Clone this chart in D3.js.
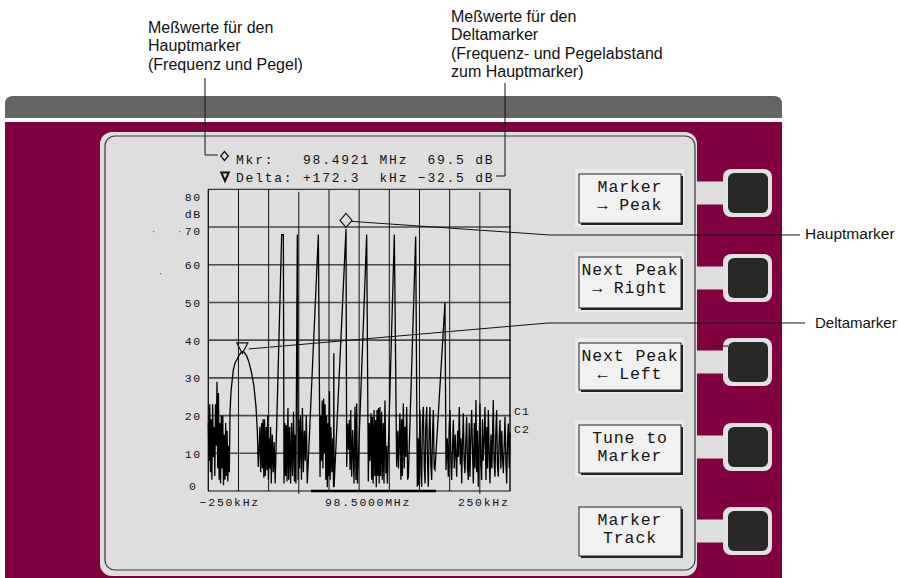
<!DOCTYPE html>
<html><head><meta charset="utf-8">
<script src="https://cdn.jsdelivr.net/npm/d3@7"></script>
<style>body{margin:0;background:#fff}svg{display:block}</style>
</head><body><svg id="c" width="898" height="578"></svg>
<script>
// ---------- data ----------
const levelTicks = [0, 10, 20, 30, 40, 50, 60, 70, 80];
const freqGrid = [-312.5, -250, -187.5, -125, -62.5, 0, 62.5, 125, 187.5, 250, 312.5];
const freqLabels = ["−250kHz", "98.5000MHz", "250kHz"];
const freqLabelValues = [-250, 0, 250];
const mkrRow = ["Mkr:", "98.4921", "MHz", "69.5", "dB"];
const deltaRow = ["Delta:", "+172.3", "kHz", "−32.5", "dB"];
const softKeys = [["Marker", "→ Peak"], ["Next Peak", "→ Right"], ["Next Peak", "← Left"], ["Tune to", "Marker"], ["Marker", "Track"]];
const noteMain = ["Meßwerte für den", "Hauptmarker", "(Frequenz und Pegel)"];
const noteDelta = ["Meßwerte für den", "Deltamarker", "(Frequenz- und Pegelabstand", "zum Hauptmarker)"];
const sideLabels = ["Hauptmarker", "Deltamarker"];
const traceLabels = ["C1", "C2"];
const mainMarker = [-27.2, 69.5];   // kHz offset, dB
const deltaMarker = [-242, 37];     // kHz offset, dB
const holdBar = [-100, 159];        // kHz
// spectrum trace: [kHz offset from 98.5 MHz, level dB]
const trace = [
 [-312.5,18],[-311,8],[-309.5,23],[-308,5],[-306.5,19],[-305,3],[-303.5,23],[-302,9],[-300.5,17],[-299,4],
 [-297.5,23],[-296,12],[-294.5,29],[-293,6],[-291.5,26],[-290,3],[-288.5,18],[-287,2],[-285.5,20],[-284,6],
 [-282.5,20],[-281,1.5],[-279.5,15],[-278,3],[-276.5,18],[-275,4],[-273.5,16],[-272,2.5],[-270.5,12],[-269,5],
 [-267.5,21],[-265.5,26.3],[-262.5,30],[-260.7,32.1],[-257.2,33.9],[-253.5,34.8],[-250.4,35.6],[-246.5,36.4],
 [-243.3,36.9],[-240,37],[-236.5,36.5],[-233,35.8],[-229.6,34.7],[-226,33],[-222.6,31.2],[-217.8,27.6],
 [-213.7,22.3],[-211,16.2],[-208.9,6.4],
 [-207,12],[-205.5,17],[-204,5],[-202,18],[-200.5,6],[-199,19],[-197.5,3.5],[-196,19],[-194.5,4],[-192.5,17],
 [-191,5.5],[-189.5,20],[-188,3],[-186.5,14],[-185,6],[-183.5,17],[-182,2],[-180,15],[-178,5],[-176,13],[-174,2],
 [-160.5,68],[-157,68],[-155.7,2],
 [-154,18],[-152.5,4],[-151,17.5],[-149.5,2.5],[-147.5,22],[-146,3],[-144,17],[-142,2],[-140,18],[-138,4],
 [-136,21],[-134,2.5],[-132.5,15],[-131,2],
 [-128.1,68],[-126.5,3],
 [-125,19],[-123.5,6],[-121.5,20],[-119.5,3],[-117.5,22],[-115.5,5],[-113.5,16],[-111.5,8],[-109.5,20],[-107.5,2],
 [-84.5,68],[-81,3.7],
 [-79.5,20],[-78,8],[-76.5,24],[-75,6],[-73.5,24.5],[-72,10],[-70.5,23],[-69,3],[-67.5,20],[-66,1],[-64.5,18],
 [-63,4],[-61.5,26.5],[-60,3],[-58.5,17],[-56.5,5],[-54.5,14],[-53,1],[-52.5,36.5],[-52,1],
 [-27.2,69.5],[-25.8,6.4],
 [-23.8,17.9],[-21.7,10.9],[-20.3,18.8],[-18.9,5.6],[-17.5,21.5],[-15.5,3.8],[-13.4,16.2],[-10.6,2],[-8.6,22.4],
 [-6.5,2.9],[-5.1,23.2],[-3.5,2],
 [15.6,68],[19,2.5],
 [21,18],[22.5,8],[24.5,20.6],[26,3],[27.5,19.7],[29,2],[31,21.5],[32.5,4],[34,18.8],[35.5,1],[37,21.5],[38.5,4],
 [40,22],[41.5,2],[43,22.3],[44.5,4],[46.5,21],[48,3],[50,18],[51.5,2],[53.5,24],[55.5,4.7],[57,12],[58.4,2],
 [72.9,68],[77.7,6.4],
 [80,16],[81.5,6],[84.5,20.6],[86.5,3],[88,19],[89.5,4],[91.5,23.2],[93.5,6],[95,17],[96.5,9],[98.5,22.3],
 [100.5,3],[101.9,3.8],
 [117.1,67.5],[120.5,1.1],
 [122,14],[123.5,1.5],[126,21.5],[128,5],[129.5,1.1],[131,18],[133,22.3],[135,6],[136.5,2],[138,17],[140,22.3],
 [141.5,8],[143.3,1.1],[145,16],[146.7,22.3],[148.5,7],[150.2,2.9],[152,15],[153.7,21.5],[155.5,6],[157.1,5.6],
 [177.8,50],[179.9,5.6],
 [182.5,14],[184.7,3.8],[186.5,17],[188.2,21.5],[190,8],[191.6,2.9],[193.5,12],[195.1,18.8],[197,6],[199,15],
 [202,3.8],[204,16],[205.5,9],[207.5,22.3],[209.5,7],[211,14],[212.3,2],[214,12],[215.8,20.6],[217.5,8],
 [219.2,4.7],[221,13],[222.7,19.7],[224.5,6],[226.2,2.9],[228,18],[229.6,3.8],[231.5,15],[233.1,21.5],[235,10],
 [236.5,2],[238.5,18],[240,6],[242,24.1],[243.5,5],[245,16],[246.9,1.1],[248.5,13],[250.3,23.2],[252,7],
 [253.8,2.9],[255.5,19],[257,8],[259,14],[260.7,22.3],[262.7,2.9],[264.5,17],[266,6],[267.6,21.5],[269.5,9],
 [271,2],[273,15],[275,6],[277.9,24.1],[279.5,8],[281.4,3.8],[283,15],[284.8,21.5],[286.5,7],[288.3,3.8],
 [290,14],[291.8,18.8],[293.5,6],[295.5,16],[297,9],[298.7,4.7],[300.5,12],[302.1,19.7],[304,8],[305.6,2],
 [307.5,14],[309,17.9],[311,6],[312.5,15.5]
];

// ---------- drawing ----------
const svg = d3.select("#c");
const MONO = "'Liberation Mono','DejaVu Sans Mono',monospace";
const SANS = "'Liberation Sans',Arial,sans-serif";
const CRIMSON = "#800040", PANEL = "#dedede";

// top gray bar and crimson body
svg.append("path").attr("d", "M5,118 V104 Q5,96 13,96 H774 Q782,96 782,104 V118 Z").attr("fill", "#646464");
svg.append("rect").attr("x", 5).attr("y", 122).attr("width", 777).attr("height", 456).attr("fill", CRIMSON);

// soft key geometry
const squareTop = [169, 254, 338, 423, 507];
const boxTop = [174, 257, 343, 425, 507];
const boxH = [49, 51, 47, 48, 49];

// tabs from panel to the hardware keys
squareTop.forEach(t => {
  svg.append("rect").attr("x", 690).attr("y", t + 12.5).attr("width", 38).attr("height", 23).attr("fill", PANEL);
});
// display panel
svg.append("rect").attr("x", 100).attr("y", 132).attr("width", 597).attr("height", 444).attr("rx", 12).attr("fill", PANEL);
svg.append("rect").attr("x", 105).attr("y", 136).attr("width", 590).attr("height", 434).attr("rx", 10)
  .attr("fill", "none").attr("stroke", "#3a3a3a").attr("stroke-width", 1.2);

// hardware keys
squareTop.forEach(t => {
  svg.append("rect").attr("x", 723).attr("y", t).attr("width", 49).attr("height", 48).attr("rx", 8).attr("fill", "#e2e2e2");
  svg.append("rect").attr("x", 728).attr("y", t + 4).attr("width", 40).attr("height", 40).attr("rx", 6).attr("fill", "#282828");
});
svg.append("line").attr("x1", 713).attr("x2", 728).attr("y1", 346).attr("y2", 346).attr("stroke", "#111").attr("stroke-width", 1);

// soft key labels
softKeys.forEach((k, i) => {
  const t = boxTop[i], h = boxH[i];
  if (i < 4) svg.append("rect").attr("x", 575).attr("y", t - 5).attr("width", 109).attr("height", h + 9).attr("fill", "#ebebeb");
  svg.append("rect").attr("x", 581).attr("y", t + 2).attr("width", 102).attr("height", h).attr("fill", "#222");
  svg.append("rect").attr("x", 579).attr("y", t).attr("width", 102).attr("height", h)
    .attr("fill", "#f1f1f1").attr("stroke", "#222").attr("stroke-width", 1);
  k.forEach((line, j) => {
    svg.append("text").attr("x", 630).attr("y", t + 17.5 + j * 18.5)
      .attr("text-anchor", "middle").attr("font-family", MONO).attr("font-size", 16.5)
      .attr("letter-spacing", 0.9).attr("fill", "#111").text(line);
  });
});

// ---------- spectrum plot ----------
const x = d3.scaleLinear().domain([-312.5, 312.5]).range([208.3, 510]);
const y = d3.scaleLinear().domain([0, 80]).range([491, 189.3]);
const plot = svg.append("g");

levelTicks.forEach(v => {
  if (v === 0 || v === 80) return;
  plot.append("line").attr("x1", x(-312.5)).attr("x2", x(312.5) + 1).attr("y1", y(v)).attr("y2", y(v))
    .attr("stroke", "#4a4a4a").attr("stroke-width", 1.6);
});
freqGrid.forEach(f => {
  const ext = (f === -125 || f === 250);
  plot.append("line").attr("x1", x(f)).attr("x2", x(f))
    .attr("y1", ext ? y(80) + 2.5 : y(80)).attr("y2", ext ? y(0) + 3 : y(0))
    .attr("stroke", "#111").attr("stroke-width", 1);
});
plot.append("rect").attr("x", x(-312.5)).attr("y", y(80)).attr("width", x(312.5) - x(-312.5)).attr("height", y(0) - y(80))
  .attr("fill", "none").attr("stroke", "#111").attr("stroke-width", 1);

// hold bar on baseline
plot.append("line").attr("x1", x(holdBar[0])).attr("x2", x(holdBar[1])).attr("y1", y(0)).attr("y2", y(0))
  .attr("stroke", "#000").attr("stroke-width", 2.6);

// trace
plot.append("path").datum(trace)
  .attr("d", d3.line().x(d => x(d[0])).y(d => y(d[1])))
  .attr("fill", "none").attr("stroke", "#000").attr("stroke-width", 1.3).attr("stroke-linejoin", "miter");

// y labels
const labelDy = v => v === 80 ? 12 : v === 70 ? 8 : v === 0 ? -1 : 4.5;
levelTicks.forEach(v => {
  svg.append("text").attr("x", 192.5).attr("y", y(v) + labelDy(v)).attr("text-anchor", "middle")
    .attr("font-family", MONO).attr("font-size", 11.5).attr("letter-spacing", 1.7).attr("dx", 0.85)
    .attr("fill", "#111").text(v);
});
svg.append("text").attr("x", 192.5).attr("y", 218).attr("text-anchor", "middle")
  .attr("font-family", MONO).attr("font-size", 11.5).attr("letter-spacing", 1.7).attr("dx", 0.85).attr("fill", "#111").text("dB");
// tiny specks left of the scale
[[153, 231], [179, 231], [160, 273]].forEach(p => svg.append("rect").attr("x", p[0]).attr("y", p[1]).attr("width", 1.2).attr("height", 1.2).attr("fill", "#666"));

// x labels
const xLabelDx = [-9.5, 8, 3];
freqLabelValues.forEach((v, i) => {
  svg.append("text").attr("x", x(v) + xLabelDx[i] + 0.85).attr("y", 505.5).attr("text-anchor", "middle")
    .attr("font-family", MONO).attr("font-size", 11.5).attr("letter-spacing", 1.7).attr("fill", "#111").text(freqLabels[i]);
});
// C1 / C2
traceLabels.forEach((t, i) => {
  svg.append("text").attr("x", 514).attr("y", 414.5 + i * 18).attr("font-family", MONO).attr("font-size", 11.5)
    .attr("letter-spacing", 1.2).attr("fill", "#111").text(t);
});

// markers
const mx = x(mainMarker[0]), my = y(mainMarker[1]) - 8.5;
svg.append("path").attr("d", `M${mx - 6},${my} L${mx},${my - 7} L${mx + 6},${my} L${mx},${my + 7} Z`)
  .attr("fill", "none").attr("stroke", "#111").attr("stroke-width", 1.1);
const dx_ = x(deltaMarker[0]), dy_ = y(deltaMarker[1]) + 2;
svg.append("path").attr("d", `M${dx_ - 5.5},${dy_ - 10.5} L${dx_ + 5.5},${dy_ - 10.5} L${dx_},${dy_} Z`)
  .attr("fill", "none").attr("stroke", "#111").attr("stroke-width", 1.3);

// header readout
const col0 = 236, colW = 9.57;
const row1Cols = [0, 7, 15, 20, 25], row2Cols = [0, 7, 15, 19, 25];
[[mkrRow, row1Cols, 164], [deltaRow, row2Cols, 182]].forEach(([row, cols, by]) => {
  row.forEach((tok, i) => {
    svg.append("text").attr("x", col0 + cols[i] * colW).attr("y", by).attr("font-family", MONO)
      .attr("font-size", 13).attr("letter-spacing", 1.77).attr("fill", "#111").text(tok);
  });
});
svg.append("path").attr("d", "M224.5,151.5 L228.3,156 L224.5,160.5 L220.7,156 Z").attr("fill", "none").attr("stroke", "#111").attr("stroke-width", 1.2);
svg.append("path").attr("d", "M221.3,172.6 L228.7,172.6 L225,181 Z").attr("fill", "none").attr("stroke", "#111").attr("stroke-width", 2);

// annotations
const note = (lines, x0, y0) => lines.forEach((t, i) => svg.append("text").attr("x", x0).attr("y", y0 + i * 18.3)
  .attr("font-family", SANS).attr("font-size", 16).attr("fill", "#111").text(t));
note(noteMain, 148, 33);
note(noteDelta, 451, 22);
svg.append("text").attr("x", 805).attr("y", 239).attr("font-family", SANS).attr("font-size", 15.5).attr("fill", "#111").text(sideLabels[0]);
svg.append("text").attr("x", 815).attr("y", 328).attr("font-family", SANS).attr("font-size", 15).attr("fill", "#111").text(sideLabels[1]);

const lead = d => svg.append("path").attr("d", d).attr("fill", "none").attr("stroke", "#111").attr("stroke-width", 1);
lead("M205,78 V155 H218");
lead("M505,83 V176 H496");
lead(`M${mx + 6},${my + 1} L550,235 H800`);
lead(`M${dx_ + 6.5},${dy_ - 4.5} L548,323 H805`);
</script></body></html>
